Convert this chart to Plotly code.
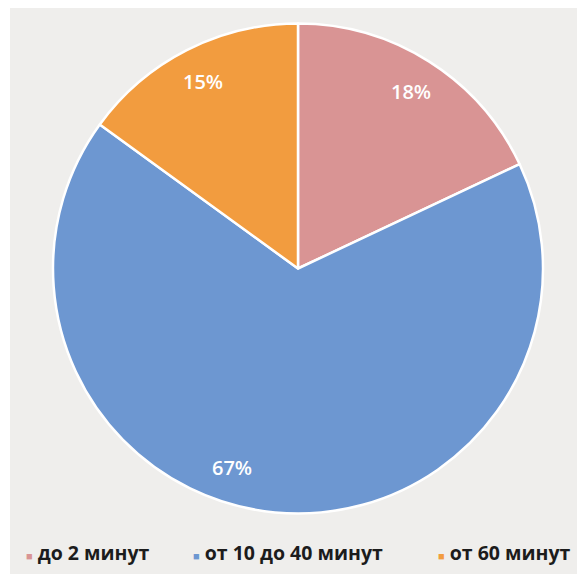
import math
import plotly.graph_objects as go

categories = ["до 2 минут", "от 10 до 40 минут", "от 60 минут"]
values = [18, 67, 15]
colors = ["#d99494", "#6d97d1", "#f29c3f"]

W, H = 585, 574

# pie geometry (pixels, figure coordinates)
CX, CY, R = 290, 260.5, 245
LABEL_R = 210
label_angle_tweak = [0, 13, 0]  # small placement tweaks (degrees)

fig = go.Figure()
fig.add_trace(go.Pie(
    labels=categories,
    values=values,
    sort=False,
    direction="clockwise",
    rotation=0,
    marker=dict(colors=colors, line=dict(color="#ffffff", width=2.5)),
    textinfo="none",
    domain=dict(x=[(CX - R) / W, (CX + R) / W],
                y=[1 - (CY + R) / H, 1 - (CY - R) / H]),
    showlegend=False,
    hoverinfo="label+percent",
))

# percentage labels placed from the cumulative values
total = sum(values)
cum = 0
for v, tw in zip(values, label_angle_tweak):
    mid = (cum + v / 2) / total * 360 + tw
    cum += v
    a = math.radians(mid)
    px = CX + LABEL_R * math.sin(a)
    py = CY - LABEL_R * math.cos(a)
    fig.add_annotation(
        xref="paper", yref="paper", x=px / W, y=1 - py / H,
        xanchor="center", yanchor="middle", showarrow=False,
        text=f"{v}%",
        font=dict(family="Open Sans", size=20, color="#ffffff", weight=600),
    )

# thin white strip on the left edge
fig.add_shape(type="rect", xref="paper", yref="paper",
              x0=0, x1=2 / W, y0=0, y1=1,
              fillcolor="#ffffff", line=dict(width=0), layer="below")

# legend built from the category list
legend_x = [16, 183, 428]
for cat, col, lx in zip(categories, colors, legend_x):
    fig.add_annotation(
        xref="paper", yref="paper", x=lx / W, y=1 - 544 / H,
        xanchor="left", yanchor="middle", showarrow=False,
        text=f"<span style='color:{col};font-size:11px'>■</span> {cat}",
        font=dict(family="Open Sans", size=19.5, color="#1c1c1c", weight=700),
    )

fig.update_layout(
    width=W, height=H,
    margin=dict(l=0, r=0, t=0, b=0),
    paper_bgcolor="#efeeec",
    plot_bgcolor="#efeeec",
)

fig.write_html("out.html")
